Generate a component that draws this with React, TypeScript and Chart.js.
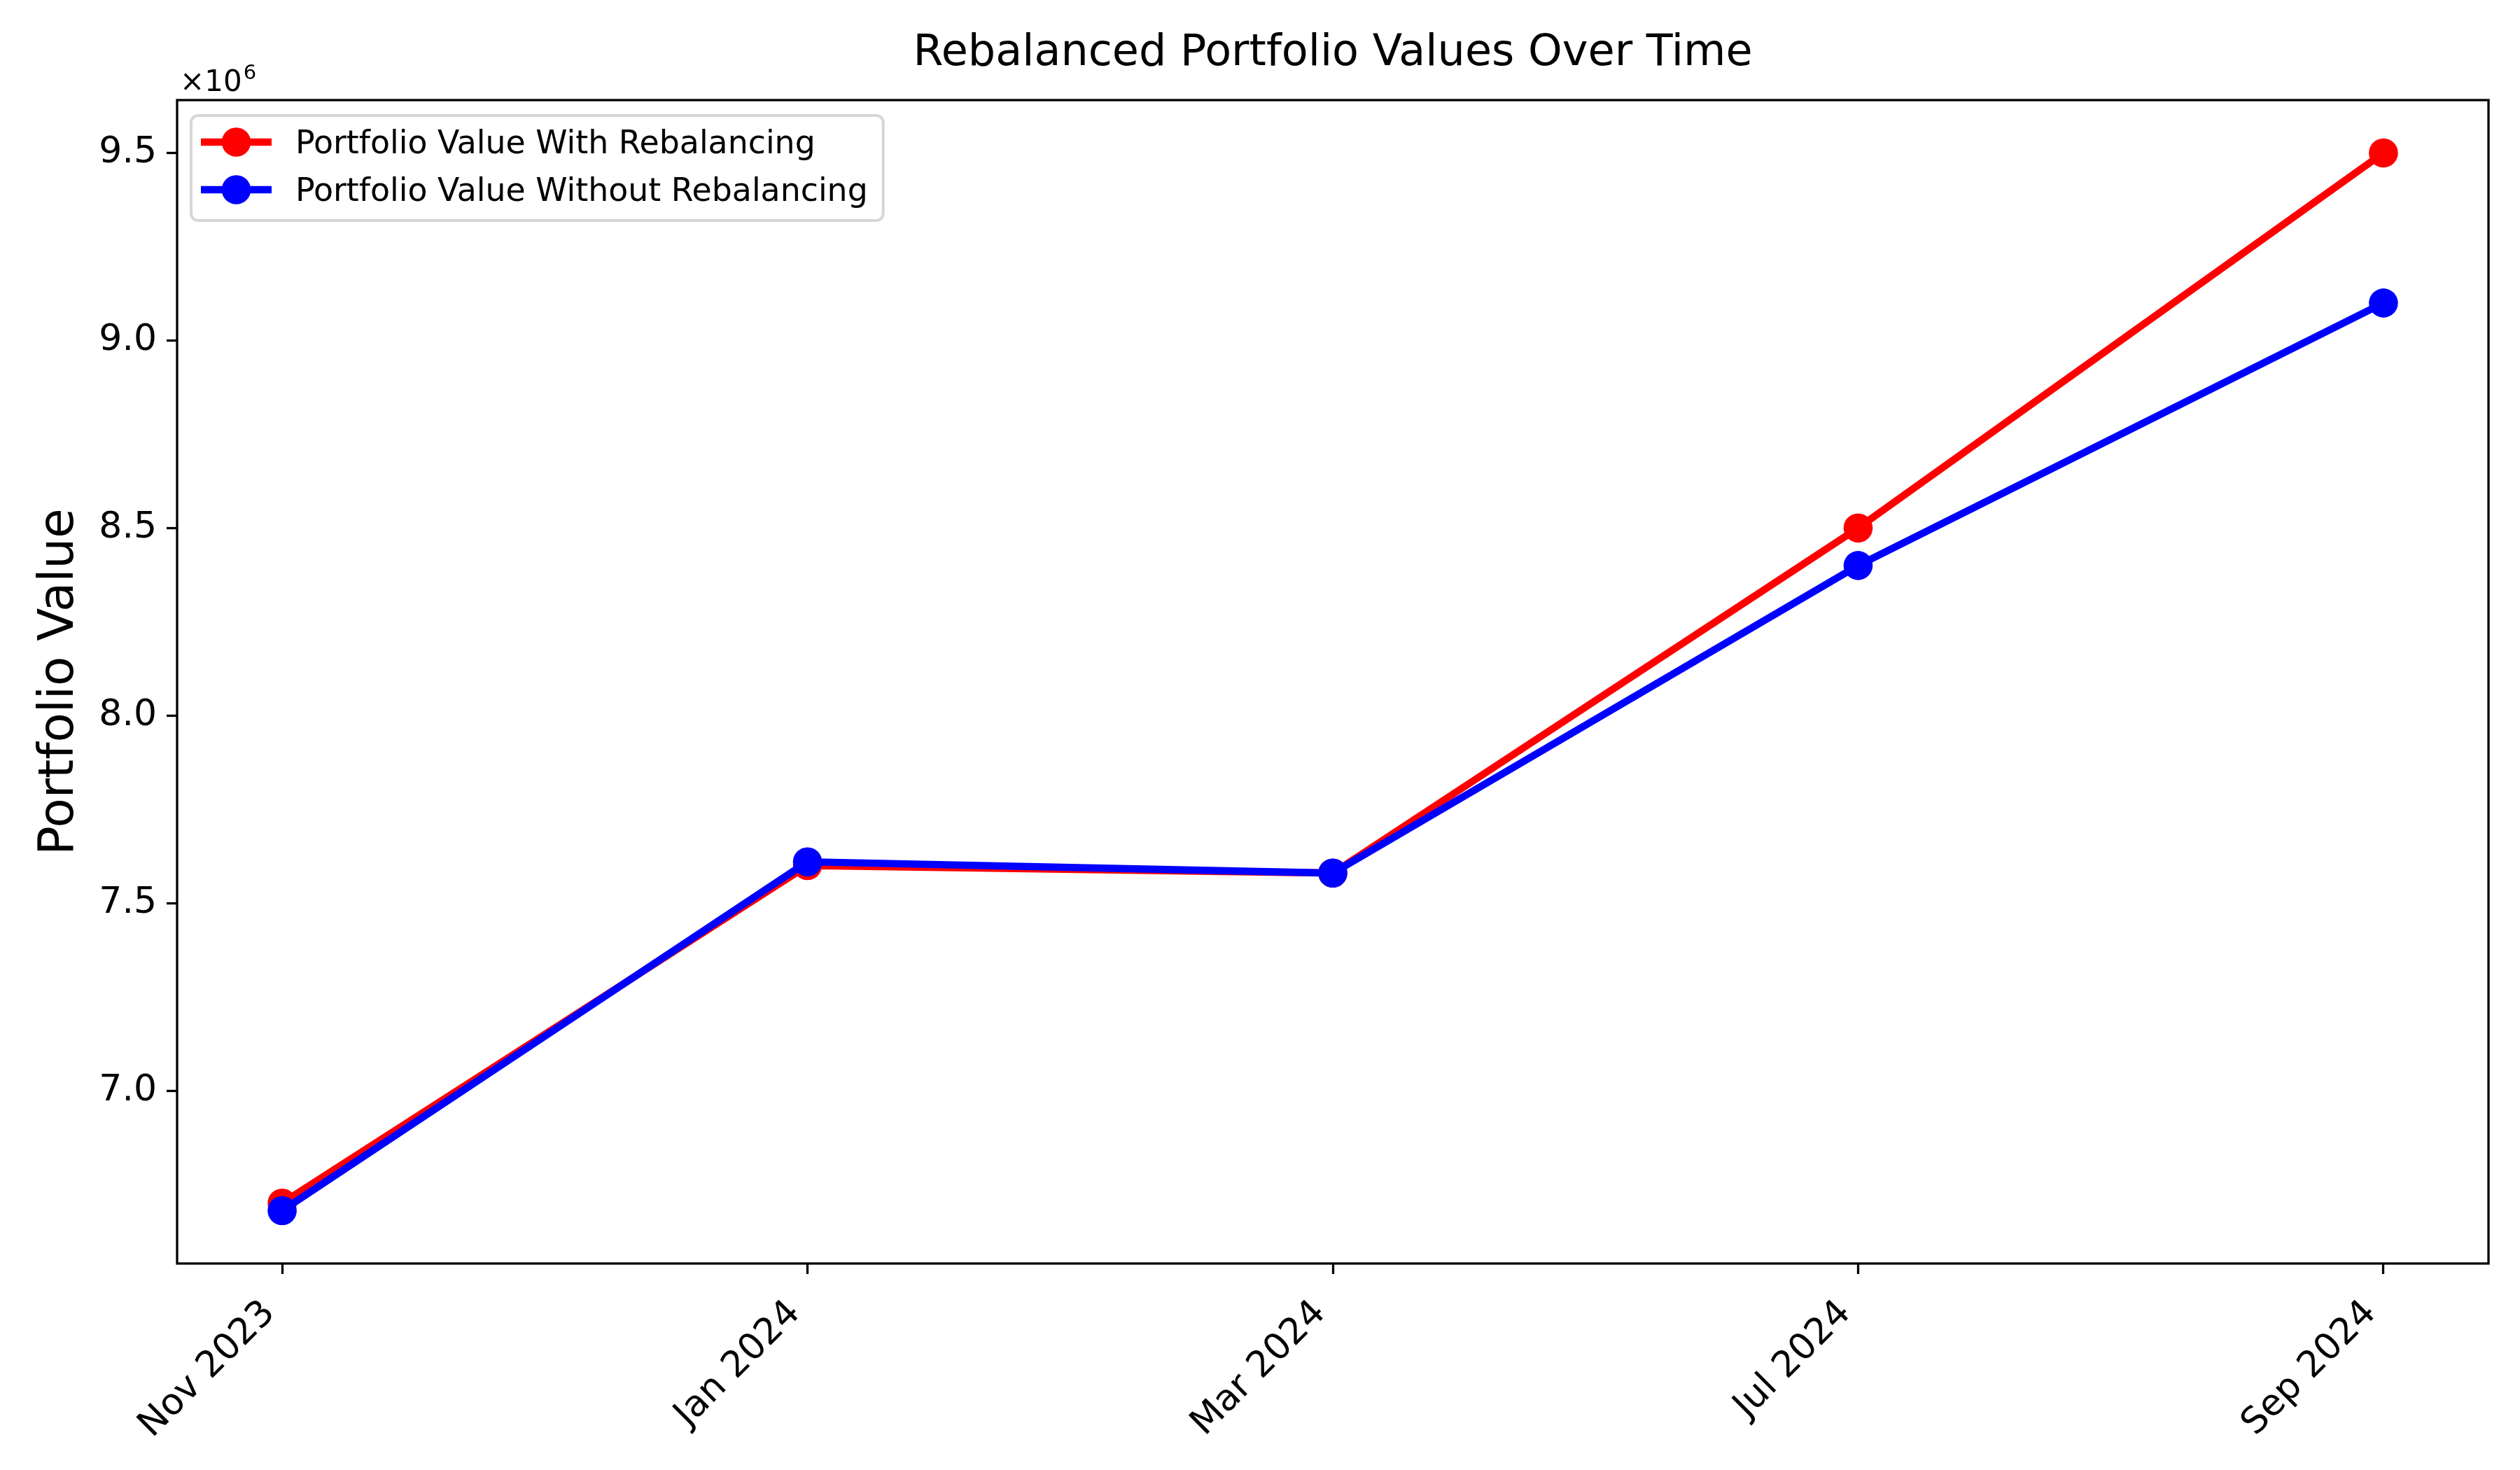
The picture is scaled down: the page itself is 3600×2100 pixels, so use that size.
import React, { useEffect, useRef } from "react";
import { Chart, registerables } from "chart.js";

Chart.register(...registerables);

const CATEGORIES = ["Nov 2023", "Jan 2024", "Mar 2024", "Jul 2024", "Sep 2024"];
const WITH_REBALANCING = [6700000, 7600000, 7580000, 8500000, 9500000];
const WITHOUT_REBALANCING = [6680000, 7610000, 7580000, 8400000, 9100000];
const Y_TICKS = [7000000, 7500000, 8000000, 8500000, 9000000, 9500000];
const SERIES_LABELS = ["Portfolio Value With Rebalancing", "Portfolio Value Without Rebalancing"];
const SERIES_COLORS = ["#ff0000", "#0000ff"];
const TITLE = "Rebalanced Portfolio Values Over Time";
const Y_LABEL = "Portfolio Value";
const OFFSET_BASE = "×10";
const OFFSET_EXP = "6";

const FONT = "'DejaVu Sans', sans-serif";

const decorPlugin = {
  id: "decor",
  afterDraw(chart: any) {
    const ctx = chart.ctx as CanvasRenderingContext2D;
    const a = chart.chartArea;
    ctx.save();
    // spines
    ctx.strokeStyle = "#000";
    ctx.lineWidth = 3.3;
    ctx.strokeRect(a.left, a.top, a.right - a.left, a.bottom - a.top);

    // title
    ctx.fillStyle = "#000";
    ctx.font = `62px ${FONT}`;
    ctx.textAlign = "center";
    ctx.textBaseline = "alphabetic";
    ctx.fillText(TITLE, (a.left + a.right) / 2, a.top - 50);

    // y label
    ctx.save();
    ctx.translate(104, (a.top + a.bottom) / 2);
    ctx.rotate(-Math.PI / 2);
    ctx.font = `69px ${FONT}`;
    ctx.textAlign = "center";
    ctx.fillText(Y_LABEL, 0, 0);
    ctx.restore();

    // offset text
    ctx.textAlign = "left";
    ctx.font = `42px ${FONT}`;
    const ox = a.left + 4;
    const oy = a.top - 13;
    ctx.fillText(OFFSET_BASE, ox, oy);
    const w = ctx.measureText(OFFSET_BASE).width;
    ctx.font = `29px ${FONT}`;
    ctx.fillText(OFFSET_EXP, ox + w + 2, oy - 17);

    // legend
    const LF = 45.8;
    ctx.font = `${LF}px ${FONT}`;
    const textW = Math.max(...SERIES_LABELS.map((l) => ctx.measureText(l).width));
    const bx = a.left + 20;
    const by = a.top + 22;
    const textX = bx + 149;
    const bw = textX - bx + textW + 22;
    const bh = 150;
    const r = 10;
    ctx.beginPath();
    ctx.moveTo(bx + r, by);
    ctx.arcTo(bx + bw, by, bx + bw, by + bh, r);
    ctx.arcTo(bx + bw, by + bh, bx, by + bh, r);
    ctx.arcTo(bx, by + bh, bx, by, r);
    ctx.arcTo(bx, by, bx + bw, by, r);
    ctx.closePath();
    ctx.fillStyle = "rgba(255,255,255,0.8)";
    ctx.fill();
    ctx.strokeStyle = "#d6d6d6";
    ctx.lineWidth = 4;
    ctx.stroke();
    const rows = [by + 38, by + 106];
    SERIES_LABELS.forEach((label, i) => {
      const cy = rows[i];
      ctx.strokeStyle = SERIES_COLORS[i];
      ctx.lineWidth = 10.4;
      ctx.beginPath();
      ctx.moveTo(bx + 14, cy);
      ctx.lineTo(bx + 115, cy);
      ctx.stroke();
      ctx.fillStyle = SERIES_COLORS[i];
      ctx.beginPath();
      ctx.arc(bx + 64.5, cy, 20.8, 0, Math.PI * 2);
      ctx.fill();
      ctx.fillStyle = "#000";
      ctx.textBaseline = "alphabetic";
      ctx.font = `${LF}px ${FONT}`;
      ctx.fillText(label, textX, cy + 16);
    });
    ctx.restore();
  },
};

export default function App() {
  const ref = useRef<HTMLCanvasElement>(null);
  useEffect(() => {
    const canvas = ref.current!;
    const all = [...WITH_REBALANCING, ...WITHOUT_REBALANCING];
    const lo = Math.min(...all);
    const hi = Math.max(...all);
    const my = (hi - lo) * 0.05;
    const mx = (CATEGORIES.length - 1) * 0.05;
    const mk = (i: number, values: number[], order: number) => ({
      label: SERIES_LABELS[i],
      data: values.map((y, x) => ({ x, y })),
      borderColor: SERIES_COLORS[i],
      backgroundColor: SERIES_COLORS[i],
      pointBackgroundColor: SERIES_COLORS[i],
      pointBorderWidth: 0,
      pointRadius: 20.8,
      pointHoverRadius: 20.8,
      borderWidth: 10.4,
      borderJoinStyle: "round" as const,
      tension: 0,
      order,
      clip: false as any,
    });
    const grid = {
      display: true,
      drawOnChartArea: false,
      drawTicks: true,
      tickLength: 15,
      tickWidth: 3.3,
      tickColor: "#000",
    };
    const chart = new Chart(canvas, {
      type: "line",
      data: {
        datasets: [mk(0, WITH_REBALANCING, 1), mk(1, WITHOUT_REBALANCING, 0)],
      },
      options: {
        responsive: false,
        animation: false,
        devicePixelRatio: 1,
        layout: { padding: { top: 143, right: 45, left: 0, bottom: 0 } },
        plugins: {
          legend: { display: false },
          title: { display: false },
          tooltip: { enabled: false },
        },
        scales: {
          x: {
            type: "linear",
            min: -mx,
            max: CATEGORIES.length - 1 + mx,
            afterBuildTicks: (s: any) => {
              s.ticks = CATEGORIES.map((_, i) => ({ value: i }));
            },
            afterFit: (s: any) => {
              s.height = 295;
            },
            ticks: {
              autoSkip: false,
              minRotation: 45,
              maxRotation: 45,
              padding: 26,
              labelOffset: -18,
              color: "#000",
              font: { family: FONT, size: 52 },
              callback: (v: any) => CATEGORIES[Math.round(Number(v))] ?? "",
            },
            grid,
            border: { display: false },
          },
          y: {
            type: "linear",
            min: lo - my,
            max: hi + my,
            afterBuildTicks: (s: any) => {
              s.ticks = Y_TICKS.map((v) => ({ value: v }));
            },
            afterFit: (s: any) => {
              s.width = 253;
            },
            ticks: {
              padding: 14,
              color: "#000",
              font: { family: FONT, size: 52 },
              callback: (v: any) => (Number(v) / 1e6).toFixed(1),
            },
            grid,
            border: { display: false },
          },
        },
      } as any,
      plugins: [decorPlugin],
    });
    return () => chart.destroy();
  }, []);
  return (
    <div style={{ position: "fixed", left: 0, top: 0, width: 3600, height: 2100, background: "#fff" }}>
      <canvas ref={ref} width={3600} height={2100} style={{ width: 3600, height: 2100, display: "block" }} />
    </div>
  );
}
